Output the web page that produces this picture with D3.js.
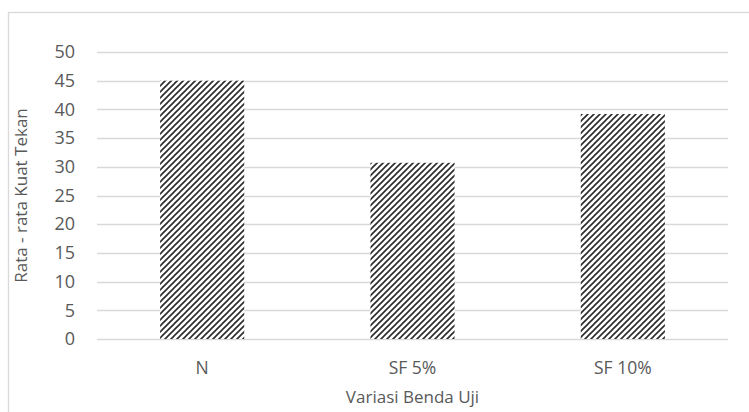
<!DOCTYPE html>
<html><head><meta charset="utf-8">
<script src="https://cdn.jsdelivr.net/npm/d3@7"></script>
<style>body{margin:0;background:#fff}svg{display:block}text{font-family:"Open Sans","Liberation Sans",sans-serif;fill:#595959}</style>
</head><body><svg id="c" width="749" height="412"></svg>
<script>
const categories = ["N", "SF 5%", "SF 10%"];
const values = [45.0, 30.7, 39.2];
const yTicks = [0, 5, 10, 15, 20, 25, 30, 35, 40, 45, 50];
const xTitle = "Variasi Benda Uji";
const yTitle = "Rata - rata Kuat Tekan";

const svg = d3.select("#c");
const m = {l: 97, r: 21, t: 52, b: 73};
const W = 749, H = 412;
const x = d3.scaleBand().domain(categories).range([m.l, W - m.r]).paddingInner(0.6).paddingOuter(0.3);
const y = d3.scaleLinear().domain([0, 50]).range([H - m.b, m.t]);

// frame
svg.append("rect").attr("x", 8.5).attr("y", 12.5).attr("width", 760).attr("height", 420)
  .attr("fill", "none").attr("stroke", "#d9d9d9").attr("stroke-width", 1.3);

const defs = svg.append("defs");
const pat = defs.append("pattern").attr("id", "hatch").attr("patternUnits", "userSpaceOnUse")
  .attr("width", 6).attr("height", 6);
pat.append("rect").attr("width", 6).attr("height", 6).attr("fill", "#fff");
pat.append("path").attr("d", "M-1,1 l2,-2 M0,6 l6,-6 M5,7 l2,-2").attr("stroke", "#2a2a2a").attr("stroke-width", 1.6);

// grid
svg.append("g").selectAll("line").data(yTicks).join("line")
  .attr("x1", m.l).attr("x2", W - m.r)
  .attr("y1", d => Math.round(y(d)) + 0.5).attr("y2", d => Math.round(y(d)) + 0.5)
  .attr("stroke", "#d9d9d9").attr("stroke-width", 1.3);

// y axis labels
const yAxis = d3.axisLeft(y).tickValues(yTicks).tickSize(0).tickPadding(0);
const gy = svg.append("g").attr("transform", `translate(75,0)`).call(yAxis);
gy.select(".domain").remove();
gy.selectAll("text").style("font-size", "18px").attr("fill", "#595959");

// bars
svg.append("g").selectAll("rect").data(values).join("rect")
  .attr("x", (d, i) => x(categories[i])).attr("width", x.bandwidth())
  .attr("y", d => y(d)).attr("height", d => y(0) - y(d))
  .attr("fill", "url(#hatch)");

// x axis labels
const xAxis = d3.axisBottom(x).tickSize(0).tickPadding(0);
const gx = svg.append("g").attr("transform", `translate(0,${y(0) + 19})`).call(xAxis);
gx.select(".domain").remove();
gx.selectAll("text").style("font-size", "17.5px").attr("fill", "#595959").attr("dy", "0.35em").attr("y", 10);

svg.append("text").attr("x", (m.l + W - m.r) / 2).attr("y", 397).attr("dy", "0.35em")
  .attr("text-anchor", "middle").style("font-size", "17px").text(xTitle);
svg.append("text").attr("transform", `translate(21,${(m.t + H - m.b) / 2}) rotate(-90)`).attr("dy", "0.35em")
  .attr("text-anchor", "middle").style("font-size", "17px").text(yTitle);
</script></body></html>
